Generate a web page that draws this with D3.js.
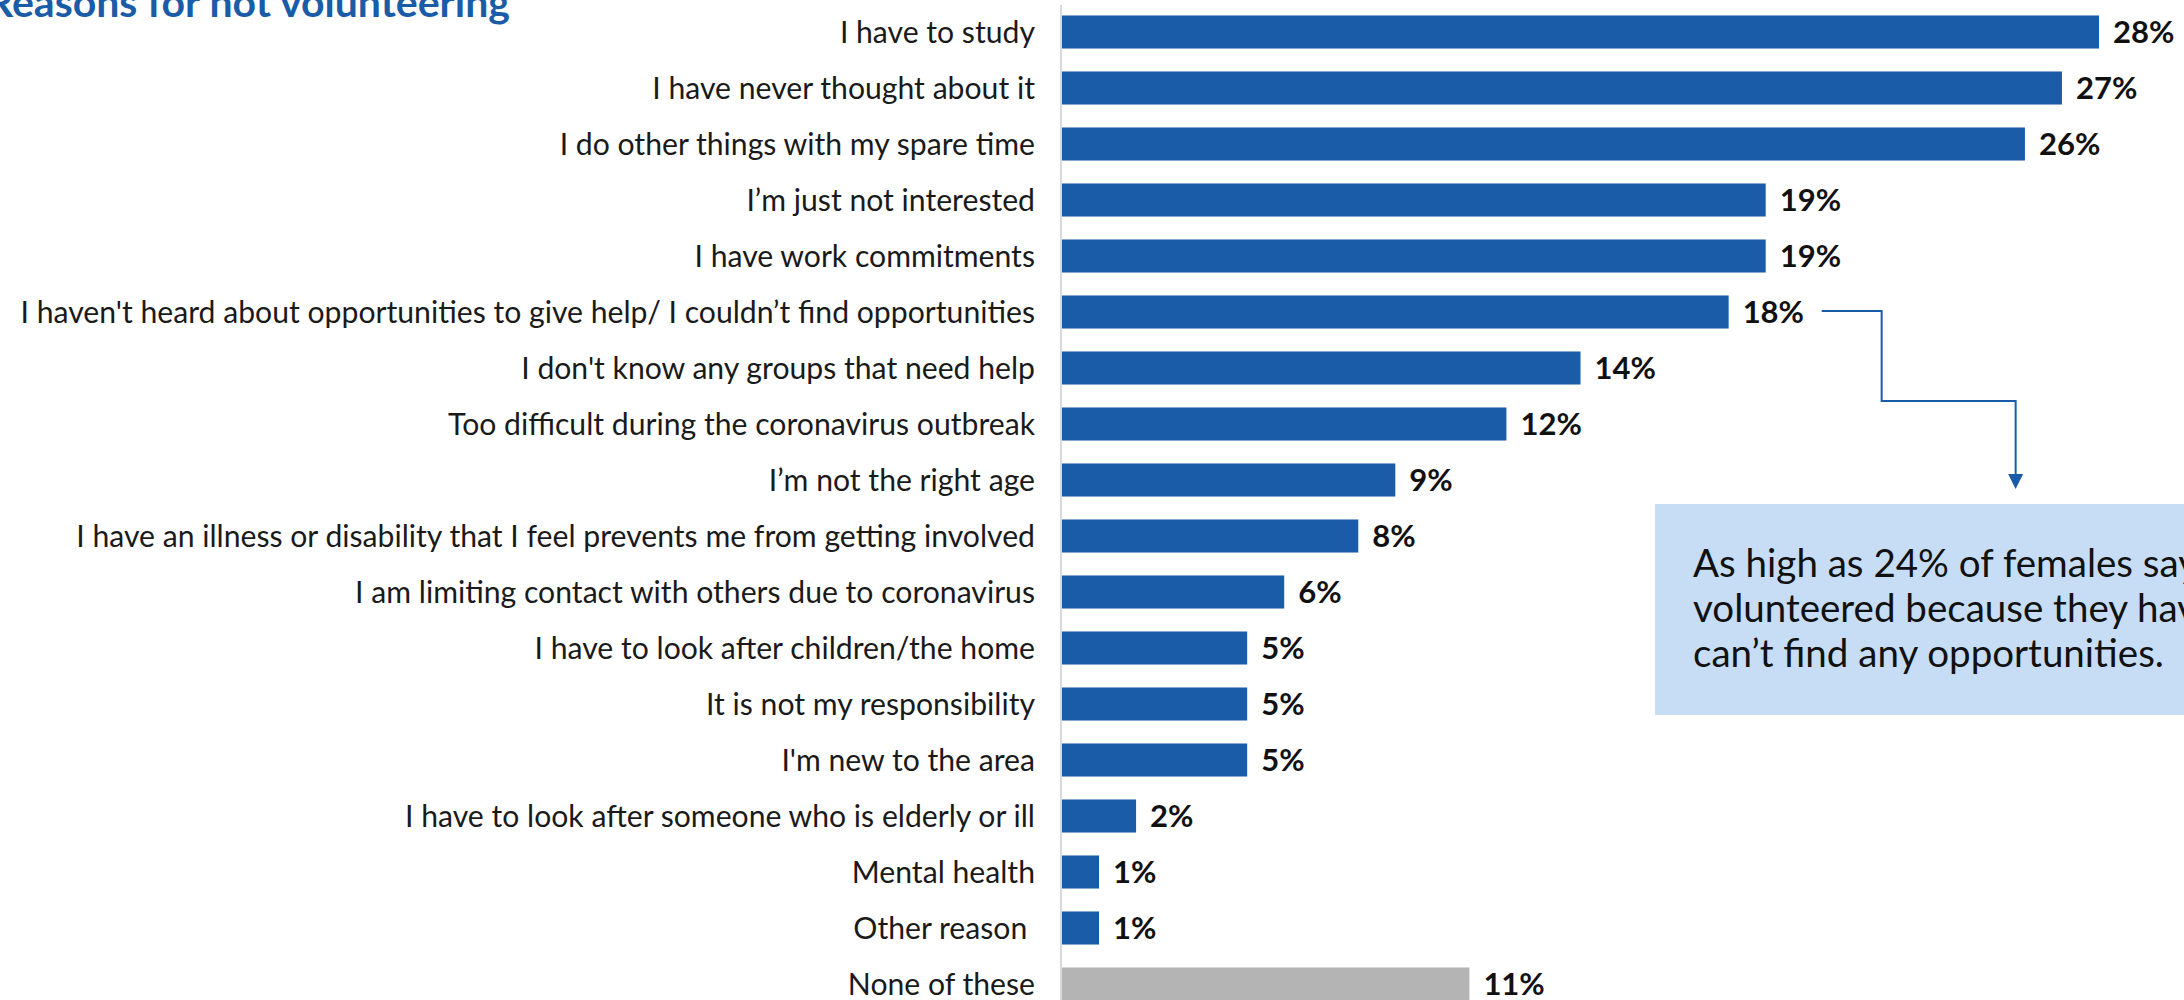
<!DOCTYPE html>
<html>
<head>
<meta charset="utf-8">
<script src="https://cdn.jsdelivr.net/npm/d3@7"></script>
<style>
  html, body { margin: 0; padding: 0; background: #ffffff; overflow: hidden; }
  svg { display: block; }
  text { font-family: Lato, "Open Sans", sans-serif; }
</style>
</head>
<body>
<svg id="chart" width="2184" height="1000"></svg>
<script>
// Reasons given for not volunteering (% of respondents)
const categories = [
  "I have to study",
  "I have never thought about it",
  "I do other things with my spare time",
  "I\u2019m just not interested",
  "I have work commitments",
  "I haven't heard about opportunities to give help/ I couldn\u2019t find opportunities",
  "I don't know any groups that need help",
  "Too difficult during the coronavirus outbreak",
  "I\u2019m not the right age",
  "I have an illness or disability that I feel prevents me from getting involved",
  "I am limiting contact with others due to coronavirus",
  "I have to look after children/the home",
  "It is not my responsibility",
  "I'm new to the area",
  "I have to look after someone who is elderly or ill",
  "Mental health",
  "Other reason ",
  "None of these"
];
const values = [28, 27, 26, 19, 19, 18, 14, 12, 9, 8, 6, 5, 5, 5, 2, 1, 1, 11];
const neutralCategories = ["None of these"];

const titleText = "Reasons for not volunteering";
const noteLines = [
  "As high as 24% of females say they haven\u2019t",
  "volunteered because they haven\u2019t heard or",
  "can\u2019t find any opportunities."
];
const highlightCategory = categories[5];

const BLUE = "#1a5ca8";
const GREY = "#b4b4b4";

const svg = d3.select("#chart");

const x = d3.scaleLinear().domain([0, 28]).range([1062, 2099]);
const y = d3.scaleBand().domain(categories).range([4, 1012])
  .paddingInner(0.41).paddingOuter(0.205);

// Title (runs off the top-left corner)
svg.append("text")
  .attr("x", 510).attr("y", 17)
  .attr("text-anchor", "end")
  .attr("font-size", 41).attr("font-weight", 700)
  .attr("fill", BLUE)
  .text(titleText);

// Baseline of the bars
svg.append("line")
  .attr("x1", 1061).attr("x2", 1061)
  .attr("y1", 5).attr("y2", 1000)
  .attr("stroke", "#d9d9d9").attr("stroke-width", 2);

// Bars
svg.append("g").selectAll("rect")
  .data(categories)
  .join("rect")
  .attr("x", x(0))
  .attr("y", d => y(d))
  .attr("width", (d, i) => x(values[i]) - x(0))
  .attr("height", y.bandwidth())
  .attr("fill", d => neutralCategories.includes(d) ? GREY : BLUE);

// Category labels, sized so the longest one fits the label column
const catLabels = svg.append("g").selectAll("text")
  .data(categories)
  .join("text")
  .attr("x", 1035)
  .attr("y", d => y(d) + y.bandwidth() / 2)
  .attr("dy", "0.36em")
  .attr("text-anchor", "end")
  .attr("font-size", 100)
  .attr("fill", "#1a1a1a")
  .style("white-space", "pre")
  .text(d => d);
const longest = d3.max(catLabels.nodes(), n => n.getComputedTextLength());
catLabels.attr("font-size", 100 * 1015 / longest);

// Value labels
svg.append("g").selectAll("text")
  .data(categories)
  .join("text")
  .attr("x", (d, i) => x(values[i]) + 14)
  .attr("y", d => y(d) + y.bandwidth() / 2)
  .attr("dy", "0.36em")
  .attr("font-size", 31).attr("font-weight", 700)
  .attr("fill", "#111")
  .text((d, i) => values[i] + "%");

// Callout connector from the highlighted bar down to the note box
const hiIdx = categories.indexOf(highlightCategory);
const sx = x(values[hiIdx]) + 93;
const cy = y(highlightCategory) + y.bandwidth() / 2 - 1;
const elbowX = sx + 60;
const midY = cy + 90;
const tipX = elbowX + 134;
const tipY = 489;
svg.append("path")
  .attr("d", `M${sx},${cy}H${elbowX}V${midY}H${tipX}V${tipY - 14}`)
  .attr("fill", "none").attr("stroke", BLUE).attr("stroke-width", 2);
svg.append("path")
  .attr("d", `M${tipX - 7.5},${tipY - 15}L${tipX + 7.5},${tipY - 15}L${tipX},${tipY}Z`)
  .attr("fill", BLUE);

// Note box
const box = { x: 1655, y: 504, w: 700, h: 211 };
svg.append("rect")
  .attr("x", box.x).attr("y", box.y)
  .attr("width", box.w).attr("height", box.h)
  .attr("fill", "#c6ddf5");
const note = svg.append("g").selectAll("text")
  .data(noteLines)
  .join("text")
  .attr("x", box.x + 38)
  .attr("y", (d, i) => box.y + 73 + i * 45)
  .attr("font-size", 100)
  .attr("fill", "#111")
  .text(d => d);
const lastW = note.nodes()[2].getComputedTextLength();
note.attr("font-size", 100 * 471 / lastW);
</script>
</body>
</html>
